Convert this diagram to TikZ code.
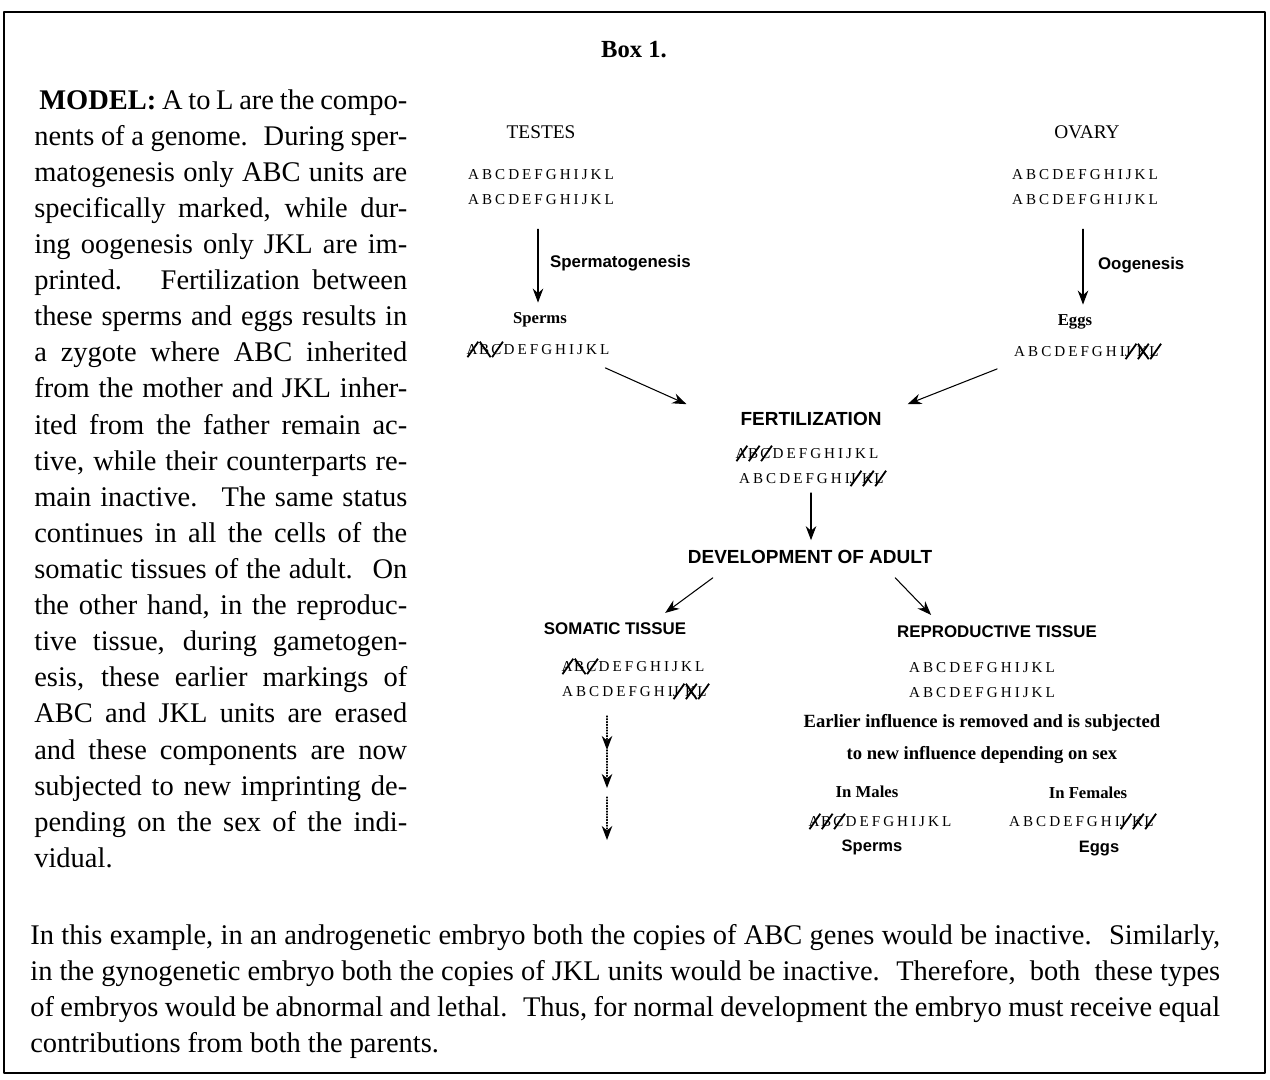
\documentclass[tikz,border=0pt]{standalone}
\usepackage{fontspec}
\usepackage{graphicx}
\setmainfont{Liberation Serif}
\setsansfont{Liberation Sans}
\newfontfamily\genefont[LetterSpace=20]{Liberation Serif}
\usetikzlibrary{arrows.meta}
% strokes over imprinted units
\newcommand\cut[1]{\ooalign{\hfil\raisebox{-0.2em}{\rotatebox{55}{\rule{1.25em}{0.12em}}}\hfil\cr#1\cr}}
\newcommand\cutb[1]{\ooalign{\hfil\raisebox{-0.2em}{\reflectbox{\rotatebox{55}{\rule{1.25em}{0.12em}}}}\hfil\cr#1\cr}}
\newcommand\cutx[1]{\ooalign{\hfil\raisebox{-0.2em}{\rotatebox{55}{\rule{1.25em}{0.12em}}}\hfil\cr\hfil\raisebox{-0.2em}{\reflectbox{\rotatebox{55}{\rule{1.25em}{0.12em}}}}\hfil\cr#1\cr}}
\newcommand\jline[2]{\makebox[#1][s]{#2}}
\tikzset{
  gene/.style={font=\genefont\fontsize{8.6}{10}\selectfont, inner sep=1pt},
  organ/.style={font=\fontsize{11}{13}\selectfont, inner sep=1pt},
  stage/.style={font=\sffamily\bfseries\fontsize{9.6}{11}\selectfont, inner sep=1pt},
  small/.style={font=\bfseries\fontsize{9.5}{11}\selectfont, inner sep=1pt},
  note/.style={font=\bfseries\fontsize{10.6}{18.2}\selectfont, inner sep=1pt, align=center},
  body/.style={font=\fontsize{16.2}{20.55}\selectfont, inner sep=0pt, align=left},
  arr/.style={-{Stealth[length=8pt,width=6pt]}, line width=0.6pt},
}
\begin{document}
\begin{tikzpicture}[x=0.02cm, y=-0.02cm, line join=round, line cap=round]
\useasboundingbox (0,0) rectangle (1270,1079);
\draw[line width=1.1pt] (4,12) rectangle (1265,1073);
\node[font=\bfseries\fontsize{14}{16}\selectfont] (box) at (634,50) {Box 1.};

% model text
\node[body, anchor=north west] (model) at (34,89) {%
\jline{7.46cm}{\hspace*{0.1cm}\textbf{MODEL:} A to L are the compo-}\\
\jline{7.46cm}{nents of a genome. \ During sper-}\\
\jline{7.46cm}{matogenesis only ABC units are}\\
\jline{7.46cm}{specifically marked, while dur-}\\
\jline{7.46cm}{ing oogenesis only JKL are im-}\\
\jline{7.46cm}{printed. \ Fertilization between}\\
\jline{7.46cm}{these sperms and eggs results in}\\
\jline{7.46cm}{a zygote where ABC inherited}\\
\jline{7.46cm}{from the mother and JKL inher-}\\
\jline{7.46cm}{ited from the father remain ac-}\\
\jline{7.46cm}{tive, while their counterparts re-}\\
\jline{7.46cm}{main inactive. \ The same status}\\
\jline{7.46cm}{continues in all the cells of the}\\
\jline{7.46cm}{somatic tissues of the adult. \ On}\\
\jline{7.46cm}{the other hand, in the reproduc-}\\
\jline{7.46cm}{tive tissue, during gametogen-}\\
\jline{7.46cm}{esis, these earlier markings of}\\
\jline{7.46cm}{ABC and JKL units are erased}\\
\jline{7.46cm}{and these components are now}\\
\jline{7.46cm}{subjected to new imprinting de-}\\
\jline{7.46cm}{pending on the sex of the indi-}\\
vidual.};

% parents
\node[organ] (testes) at (541,132) {TESTES};
\node[gene] (tg1) at (541,175) {ABCDEFGHIJKL};
\node[gene] (tg2) at (541,200) {ABCDEFGHIJKL};
\node[small] (sperms) at (540,320) {Sperms};
\node[gene] (spg) at (538,348) {\cut{A}\cutb{B}\cut{C}DEFGHIJKL};
\node[stage, anchor=west] (spermato) at (548,263) {Spermatogenesis};

\node[organ] (ovary) at (1087,132) {OVARY};
\node[gene] (og1) at (1085,175) {ABCDEFGHIJKL};
\node[gene] (og2) at (1085,200) {ABCDEFGHIJKL};
\node[small] (eggs) at (1075,322) {Eggs};
\node[gene] (egg) at (1088,350) {ABCDEFGHI\cut{J}\cutx{K}\cut{L}};
\node[stage, anchor=west] (oogen) at (1096,265) {Oogenesis};

% zygote
\node[stage, font=\sffamily\bfseries\fontsize{10.8}{12}\selectfont] (fert) at (811,419) {FERTILIZATION};
\node[gene] (fg1) at (807,452) {\cut{A}\cut{B}\cut{C}DEFGHIJKL};
\node[gene] (fg2) at (813,477) {ABCDEFGHI\cut{J}\cut{K}\cut{L}};
\node[stage, font=\sffamily\bfseries\fontsize{10.8}{12}\selectfont] (devel) at (810,557) {DEVELOPMENT OF ADULT};

% somatic
\node[stage] (somatic) at (615,629) {SOMATIC TISSUE};
\node[gene] (sg1) at (633,665) {\cut{A}\cutb{B}\cut{C}DEFGHIJKL};
\node[gene] (sg2) at (636,690) {ABCDEFGHI\cut{J}\cutx{K}\cut{L}};
\coordinate (st1) at (607,750);
\coordinate (st2) at (607,788);
\coordinate (st3) at (607,797);
\coordinate (st4) at (607,840);

% reproductive
\node[stage] (repro) at (997,632) {REPRODUCTIVE TISSUE};
\node[gene] (rg1) at (982,668) {ABCDEFGHIJKL};
\node[gene] (rg2) at (982,693) {ABCDEFGHIJKL};
\node[note] (earlier) at (982,739) {Earlier influence is removed and is subjected\\to new influence depending on sex};
\node[small] (males) at (867,792) {In Males};
\node[small] (females) at (1088,793) {In Females};
\node[gene] (mg) at (880,820) {\cut{A}\cut{B}\cut{C}DEFGHIJKL};
\node[gene] (fmg) at (1083,820) {ABCDEFGHI\cut{J}\cut{K}\cut{L}};
\node[stage, font=\sffamily\bfseries\fontsize{9.4}{11}\selectfont] (msperms) at (872,847) {Sperms};
\node[stage, font=\sffamily\bfseries\fontsize{9.4}{11}\selectfont] (feggs) at (1099,849) {Eggs};

% arrows
\draw[arr] ([shift={(-3,22)}]tg2.south) -- ([shift={(-2,-8)}]sperms.north);
\draw[arr] ([shift={(-2,22)}]og2.south) -- ([shift={(8,-8)}]eggs.north);
\draw[arr] ([shift={(-6,11)}]spg.south east) -- ([shift={(-52,-6)}]fert.north west);
\draw[arr] ([shift={(-15,10)}]egg.south west) -- ([shift={(24,-6)}]fert.north east);
\draw[arr] ([shift={(-2,7)}]fg2.south) -- ([shift={(1,-8)}]devel.north);
\draw[arr] ([shift={(27,12)}]devel.south west) -- ([shift={(-23,-8)}]somatic.north east);
\draw[arr] ([shift={(-39,12)}]devel.south east) -- ([shift={(36,-9)}]repro.north west);
\draw[arr, densely dotted] ([shift={(-29,17)}]sg2.south) -- (st1);
\draw[arr, densely dotted] (st1) -- (st2);
\draw[arr, densely dotted] (st3) -- (st4);

% closing text
\node[body, anchor=north west] (closing) at (30,924) {%
\jline{23.8cm}{In this example, in an androgenetic embryo both the copies of ABC genes would be inactive. \ Similarly,}\\
\jline{23.8cm}{in the gynogenetic embryo both the copies of JKL units would be inactive. \ Therefore, \ both \ these types}\\
\jline{23.8cm}{of embryos would be abnormal and lethal. \ Thus, for normal development the embryo must receive equal}\\
contributions from both the parents.};
\end{tikzpicture}
\end{document}
